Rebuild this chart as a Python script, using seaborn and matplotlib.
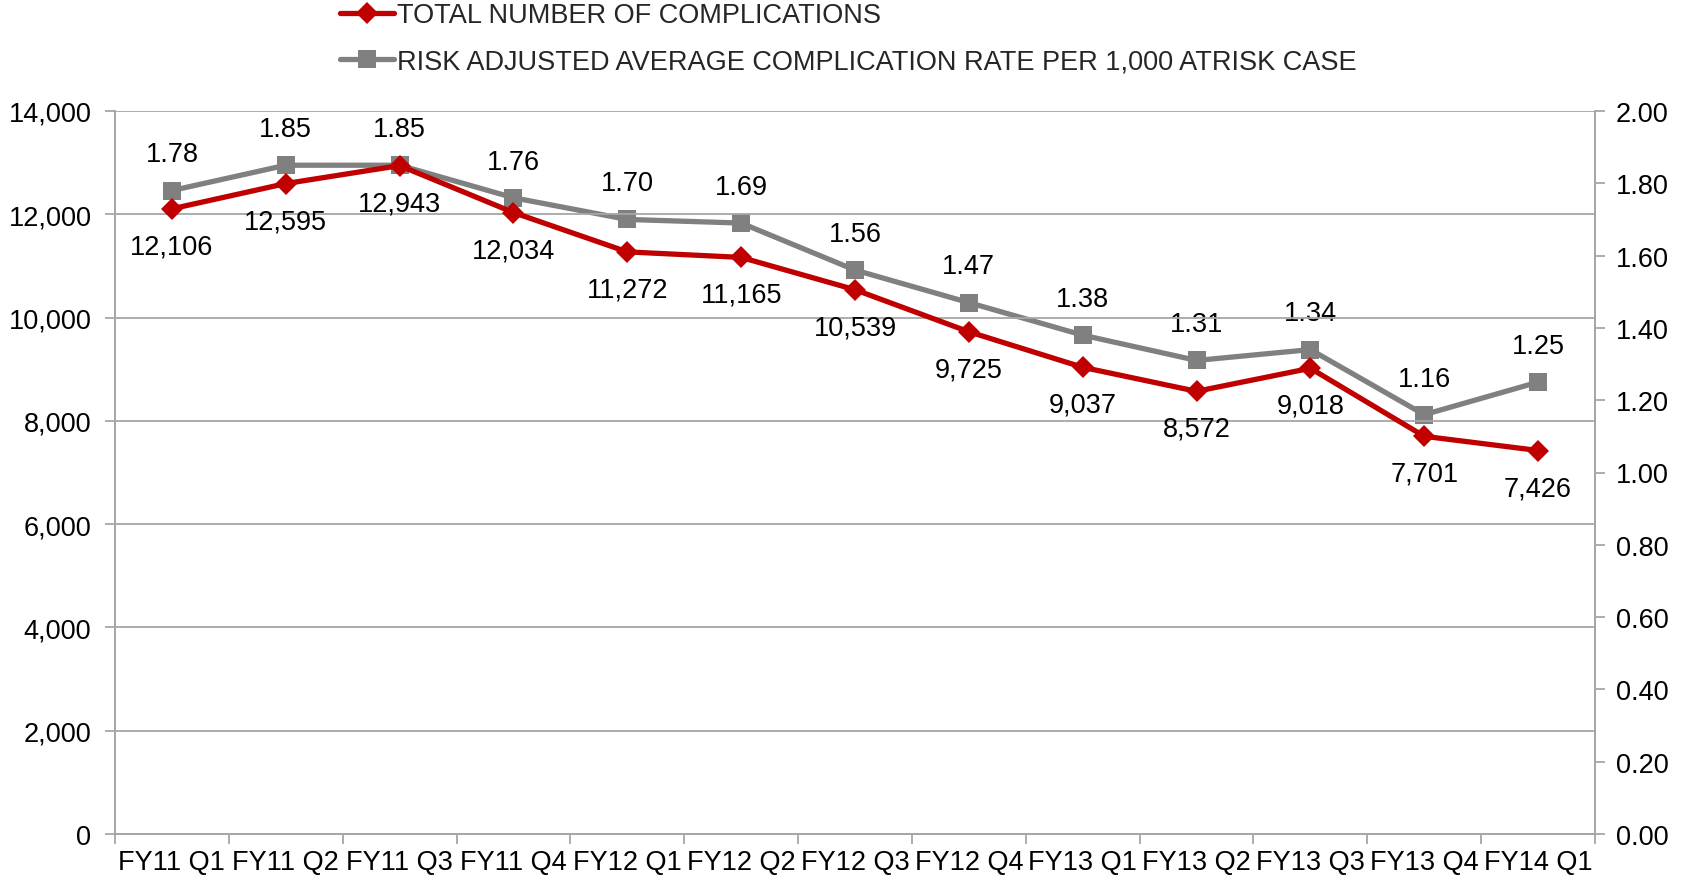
import matplotlib
matplotlib.use("Agg")
import matplotlib.pyplot as plt
from matplotlib.lines import Line2D
import seaborn as sns
import numpy as np
import pandas as pd

quarters = ["FY11 Q1", "FY11 Q2", "FY11 Q3", "FY11 Q4", "FY12 Q1", "FY12 Q2",
            "FY12 Q3", "FY12 Q4", "FY13 Q1", "FY13 Q2", "FY13 Q3", "FY13 Q4",
            "FY14 Q1"]
total_complications = [12106, 12595, 12943, 12034, 11272, 11165, 10539,
                       9725, 9037, 8572, 9018, 7701, 7426]
risk_adjusted_rate = [1.78, 1.85, 1.85, 1.76, 1.70, 1.69, 1.56, 1.47,
                      1.38, 1.31, 1.34, 1.16, 1.25]
left_ticks = [0, 2000, 4000, 6000, 8000, 10000, 12000, 14000]
right_ticks = [0.0, 0.2, 0.4, 0.6, 0.8, 1.0, 1.2, 1.4, 1.6, 1.8, 2.0]

RED = "#C00000"
GREY = "#808080"
AXIS = "#A6A6A6"

sns.set_theme(style="white")
plt.rcParams["font.family"] = ["Liberation Sans", "DejaVu Sans"]
FS = 19.5
LW = 3.8

df = pd.DataFrame({"pos": np.arange(len(quarters)),
                   "total": total_complications,
                   "rate": risk_adjusted_rate})

fig = plt.figure(figsize=(16.9, 8.79), dpi=100)
ax = fig.add_axes([115 / 1690, 1 - 835 / 879, (1595 - 115) / 1690, (835 - 112) / 879])
ax2 = ax.twinx()

# primary axis: complication counts
sns.lineplot(data=df, x="pos", y="total", ax=ax, color=RED, lw=LW,
             marker="D", markersize=11.5, markeredgewidth=0, zorder=3)
# secondary axis: risk-adjusted rate
sns.lineplot(data=df, x="pos", y="rate", ax=ax2, color=GREY, lw=LW,
             marker="s", markersize=13, markeredgewidth=0, zorder=2)

ax.set_zorder(ax2.get_zorder() + 1)
ax.patch.set_visible(False)

n = len(quarters)
ax.set_xlim(-0.5, n - 0.5)
ax.set_ylim(0, 14000)
ax2.set_ylim(0, 2.0)

ax.set_yticks(left_ticks)
ax.set_yticklabels([f"{v:,}" for v in left_ticks])
ax2.set_yticks(right_ticks)
ax2.set_yticklabels([f"{v:.2f}" for v in right_ticks])

# category labels centred, tick marks on the boundaries
ax.set_xticks(np.arange(-0.5, n, 1.0))
ax.set_xticklabels([])
ax.set_xticks(np.arange(n), minor=True)
ax.set_xticklabels(quarters, minor=True)
ax.tick_params(axis="x", which="major", length=7, width=1.3, color=AXIS,
               direction="out", bottom=True)
ax.tick_params(axis="x", which="minor", length=0, pad=11, labelsize=FS,
               labelcolor="black")
ax.tick_params(axis="y", length=7, width=1.3, color=AXIS, direction="out",
               left=True, pad=10, labelsize=FS, labelcolor="black")
ax2.tick_params(axis="y", length=7, width=1.3, color=AXIS, direction="out",
                right=True, pad=8, labelsize=FS, labelcolor="black")

ax.yaxis.grid(True, color=AXIS, lw=1.3)
ax.xaxis.grid(False)
ax2.grid(False)
ax.set_xlabel("")
ax.set_ylabel("")
ax2.set_ylabel("")

for a in (ax, ax2):
    a.spines["top"].set_visible(False)
    for side in ("left", "right", "bottom"):
        a.spines[side].set_color(AXIS)
        a.spines[side].set_linewidth(1.3)

# value labels
for i, v in enumerate(total_complications):
    ax.annotate(f"{v:,}", (i, v), xytext=(0, -27), textcoords="offset points",
                ha="center", va="center", fontsize=FS, color="black")
for i, v in enumerate(risk_adjusted_rate):
    ax2.annotate(f"{v:.2f}", (i, v), xytext=(0, 26), textcoords="offset points",
                 ha="center", va="center", fontsize=FS, color="black")

handles = [
    Line2D([0], [0], color=RED, lw=LW, marker="D", markersize=11.5, markeredgewidth=0),
    Line2D([0], [0], color=GREY, lw=LW, marker="s", markersize=13, markeredgewidth=0),
]
labels = ["TOTAL NUMBER OF COMPLICATIONS",
          "RISK ADJUSTED AVERAGE COMPLICATION RATE PER 1,000 ATRISK CASE"]
fig.legend(handles, labels, loc="upper left",
           bbox_to_anchor=(340 / 1690, 1 - 3 / 879),
           frameon=False, fontsize=FS, handlelength=2.0, handletextpad=0.1,
           labelspacing=0.75, borderaxespad=0, borderpad=0)

fig.savefig("out.png", dpi=100)
